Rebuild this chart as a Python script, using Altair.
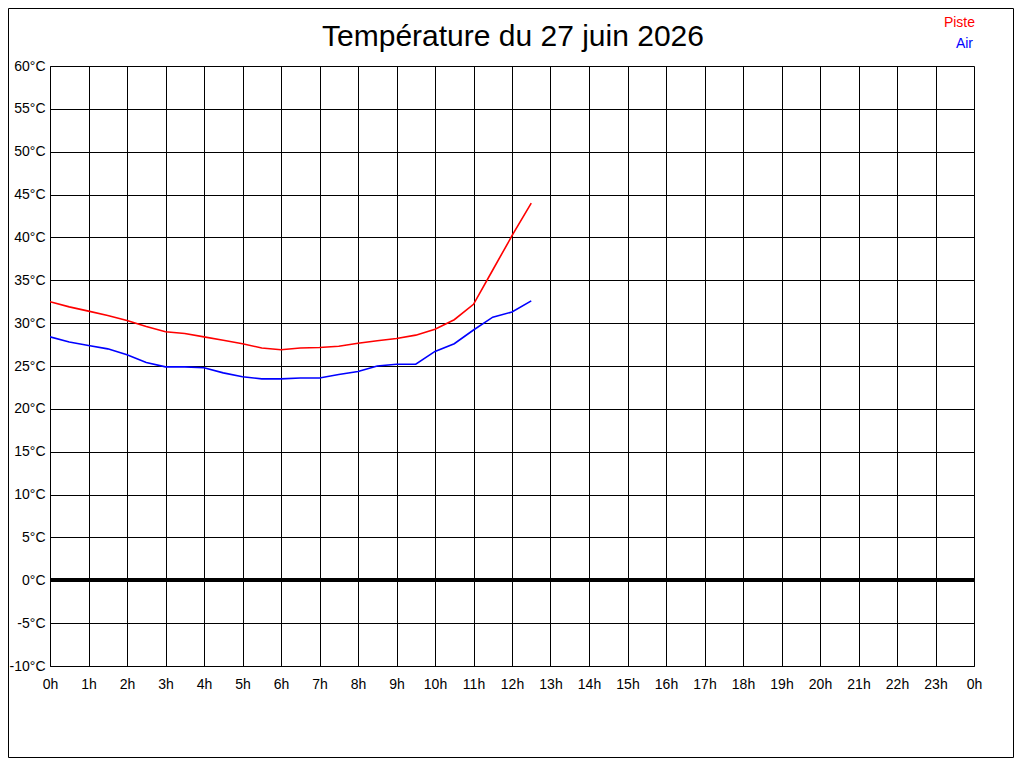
import altair as alt
import pandas as pd

hours = [0, 0.5, 1, 1.5, 2, 2.5, 3, 3.5, 4, 4.5, 5, 5.5, 6, 6.5, 7, 7.5, 8, 8.5,
         9, 9.5, 10, 10.5, 11, 11.5, 12, 12.5]
piste = [32.5, 31.9, 31.4, 30.9, 30.3, 29.6, 29.0, 28.8, 28.4, 28.0, 27.6, 27.1,
         26.9, 27.1, 27.15, 27.3, 27.65, 27.95, 28.2, 28.6, 29.3, 30.4, 32.2, 36.2,
         40.2, 44.0]
air = [28.4, 27.8, 27.4, 27.0, 26.3, 25.4, 24.9, 24.9, 24.8, 24.2, 23.75, 23.5,
       23.5, 23.6, 23.6, 24.0, 24.35, 25.0, 25.2, 25.2, 26.7, 27.6, 29.2, 30.7,
       31.3, 32.6]
series_names = ["Piste", "Air"]
series_colors = ["#ff0000", "#0000ff"]
x_ticks = list(range(0, 25))
y_ticks = list(range(-10, 61, 5))
title_text = "Température du 27 juin 2026"

df = pd.DataFrame(
    [{"h": h, "t": v, "s": "Piste"} for h, v in zip(hours, piste)]
    + [{"h": h, "t": v, "s": "Air"} for h, v in zip(hours, air)]
)

FONT = "Liberation Sans"

x_enc = alt.X(
    "h:Q",
    scale=alt.Scale(domain=[0, 24], nice=False, zero=False),
    axis=alt.Axis(
        values=x_ticks, title=None, labelExpr="(datum.value % 24) + 'h'",
        ticks=False, labelPadding=11, labelFlush=False, labelOverlap=False,
        grid=True, gridColor="black", gridOpacity=1, gridWidth=1,
        domainColor="black", labelFont=FONT, labelFontSize=14, labelColor="black",
    ),
)
y_enc = alt.Y(
    "t:Q",
    scale=alt.Scale(domain=[-10, 60], nice=False, zero=False),
    axis=alt.Axis(
        values=y_ticks, title=None, labelExpr="datum.value + '°C'",
        ticks=False, labelPadding=5, labelFlush=False, labelOverlap=False,
        grid=True, gridColor="black", gridOpacity=1, gridWidth=1,
        domainColor="black", labelFont=FONT, labelFontSize=14, labelColor="black",
    ),
)

lines = alt.Chart(df).mark_line(strokeWidth=1.6, clip=True).encode(
    x=x_enc,
    y=y_enc,
    color=alt.Color("s:N", scale=alt.Scale(domain=series_names, range=series_colors), legend=None),
    detail="s:N",
)

zero = alt.Chart(df).mark_rule(color="black", strokeWidth=3).encode(y=alt.datum(0))

legend_df = pd.DataFrame({"s": series_names, "c": series_colors, "row": [0, 1],
                          "title": [title_text, title_text]})
leg_piste = alt.Chart(legend_df).transform_filter("datum.row == 0").mark_text(
    align="right", baseline="alphabetic", font=FONT, fontSize=14
).encode(text="s:N", color=alt.value(series_colors[0]), x=alt.value(925), y=alt.value(-39))
leg_air = alt.Chart(legend_df).transform_filter("datum.row == 1").mark_text(
    align="right", baseline="alphabetic", font=FONT, fontSize=14
).encode(text="s:N", color=alt.value(series_colors[1]), x=alt.value(923), y=alt.value(-18))

title_mark = alt.Chart(legend_df).transform_filter("datum.row == 0").mark_text(
    align="center", baseline="alphabetic", font=FONT, fontSize=30, color="black"
).encode(text="title:N", x=alt.value(463), y=alt.value(-20))

frame = alt.Chart(legend_df).transform_filter("datum.row == 0").mark_rect(
    fill=None, stroke="black", strokeWidth=1
).encode(x=alt.value(-41.5), x2=alt.value(963.5), y=alt.value(-57.5), y2=alt.value(691.5))

chart = alt.layer(lines, zero, leg_piste, leg_air, title_mark, frame).properties(
    width=924,
    height=600,
    autosize=alt.AutoSizeParams(type="none"),
    padding={"left": 42, "top": 58, "right": 40, "bottom": 92},
).configure_view(stroke="black", strokeWidth=1).configure(background="white")

chart.save("out.html", embed_options={"renderer": "svg", "actions": False})
